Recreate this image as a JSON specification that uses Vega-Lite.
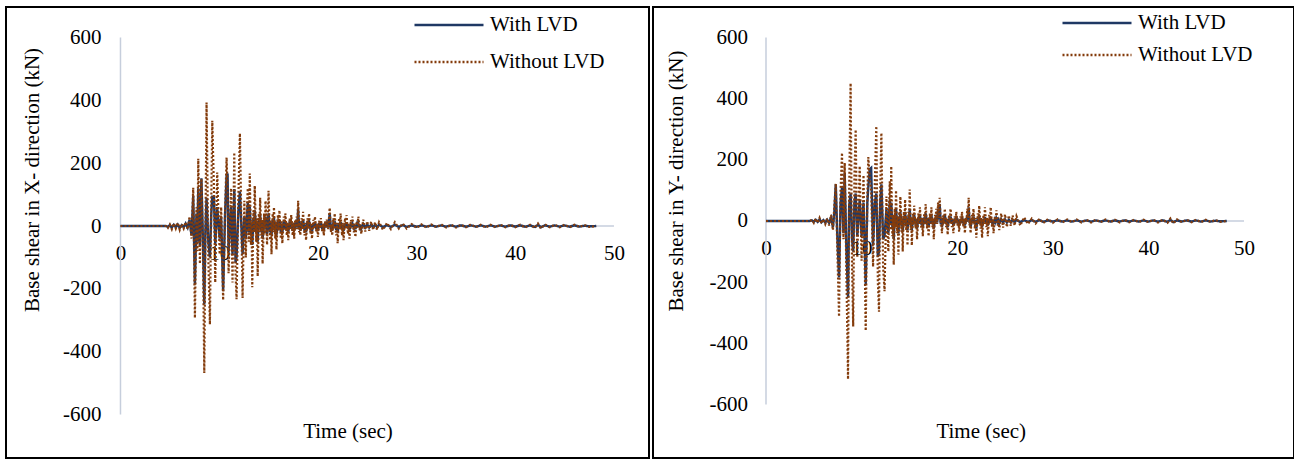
{
"$schema":"https://vega.github.io/schema/vega-lite/v6.json",
"padding":{"left":5,"top":6,"right":2,"bottom":2},
"autosize":{"type":"pad"},
"spacing":2,
"datasets":{
"dx":[
{"t":0,"a":0,"b":0},{"t":4.6,"a":0,"b":0},{"t":4.8,"a":-3,"b":-6},{"t":5.0,"a":3,"b":5},{"t":5.2,"a":-5,"b":-10},{"t":5.4,"a":4,"b":8},{"t":5.6,"a":-4,"b":-8},{"t":5.8,"a":5,"b":10},{"t":6.0,"a":-6,"b":-12},{"t":6.2,"a":3,"b":6},{"t":6.4,"a":-4,"b":-8},{"t":6.6,"a":8,"b":12},{"t":6.8,"a":-5,"b":-10},
{"t":7.0,"a":20,"b":30},{"t":7.2,"a":-30,"b":-40},{"t":7.37,"a":96,"b":122},{"t":7.54,"a":-186,"b":-293},{"t":7.7,"a":40,"b":60},{"t":7.79,"a":-50,"b":-80},{"t":7.88,"a":120,"b":214},{"t":8.05,"a":-60,"b":-120},{"t":8.2,"a":152,"b":150},{"t":8.35,"a":-40,"b":-60},{"t":8.49,"a":-250,"b":-468},{"t":8.6,"a":-20,"b":-50},{"t":8.72,"a":90,"b":393},{"t":8.9,"a":-50,"b":-100},{"t":9.06,"a":-100,"b":-313},{"t":9.2,"a":40,"b":80},{"t":9.3,"a":93,"b":335},{"t":9.47,"a":93,"b":120},{"t":9.6,"a":-60,"b":-180},{"t":9.8,"a":60,"b":170},{"t":10.05,"a":-40,"b":-90},{"t":10.2,"a":30,"b":60},{"t":10.4,"a":-207,"b":-236},{"t":10.6,"a":40,"b":50},{"t":10.75,"a":160,"b":218},{"t":10.85,"a":167,"b":120},{"t":10.95,"a":-80,"b":-150},{"t":11.2,"a":60,"b":120},{"t":11.35,"a":-90,"b":-180},{"t":11.53,"a":118,"b":234},{"t":11.66,"a":-117,"b":-150},{"t":11.76,"a":-100,"b":-233},{"t":11.95,"a":50,"b":100},{"t":12.1,"a":110,"b":295},{"t":12.37,"a":-90,"b":-229},
{"t":12.55,"a":30,"b":80},{"t":12.62,"a":-15,"b":-30},{"t":12.7,"a":-40,"b":-100},{"t":12.8,"a":20,"b":50},{"t":12.9,"a":75,"b":120},{"t":13.0,"a":-20,"b":-50},{"t":13.1,"a":60,"b":167},{"t":13.22,"a":-25,"b":-60},{"t":13.28,"a":10,"b":20},{"t":13.35,"a":-60,"b":-195},{"t":13.47,"a":25,"b":50},{"t":13.53,"a":-10,"b":-20},{"t":13.6,"a":50,"b":128},{"t":13.75,"a":-20,"b":-50},{"t":13.82,"a":10,"b":25},{"t":13.9,"a":-50,"b":-160},{"t":14.02,"a":20,"b":40},{"t":14.08,"a":-10,"b":-20},{"t":14.15,"a":35,"b":90},{"t":14.28,"a":-20,"b":-40},{"t":14.34,"a":10,"b":20},{"t":14.4,"a":-40,"b":-120},{"t":14.55,"a":20,"b":40},{"t":14.62,"a":-10,"b":-25},{"t":14.7,"a":30,"b":80},{"t":14.85,"a":-25,"b":-60},{"t":15.0,"a":40,"b":112},{"t":15.15,"a":-20,"b":-45},{"t":15.22,"a":10,"b":20},{"t":15.3,"a":-30,"b":-90},{"t":15.42,"a":20,"b":40},{"t":15.48,"a":-10,"b":-20},{"t":15.55,"a":25,"b":60},{"t":15.68,"a":-20,"b":-40},{"t":15.74,"a":8,"b":15},{"t":15.8,"a":-30,"b":-75},{"t":15.95,"a":20,"b":35},{"t":16.02,"a":-8,"b":-15},{"t":16.1,"a":20,"b":50},{"t":16.25,"a":-20,"b":-40},{"t":16.32,"a":8,"b":15},{"t":16.4,"a":-20,"b":-55},{"t":16.55,"a":15,"b":30},{"t":16.62,"a":-8,"b":-15},{"t":16.7,"a":15,"b":40},{"t":16.85,"a":-15,"b":-30},{"t":16.92,"a":6,"b":12},{"t":17.0,"a":-20,"b":-45},{"t":17.15,"a":15,"b":25},{"t":17.22,"a":-6,"b":-12},{"t":17.3,"a":15,"b":35},{"t":17.45,"a":-15,"b":-30},{"t":17.52,"a":6,"b":12},{"t":17.6,"a":-15,"b":-40},{"t":17.7,"a":10,"b":20},{"t":17.75,"a":-5,"b":-10},{"t":17.85,"a":20,"b":30},{"t":17.92,"a":-5,"b":-10},{"t":18.0,"a":55,"b":80},{"t":18.1,"a":-10,"b":-20},{"t":18.15,"a":5,"b":10},{"t":18.22,"a":-15,"b":-30},{"t":18.35,"a":15,"b":25},{"t":18.42,"a":-5,"b":-10},{"t":18.5,"a":20,"b":45},{"t":18.65,"a":-15,"b":-30},{"t":18.72,"a":5,"b":10},{"t":18.8,"a":-20,"b":-45},{"t":18.95,"a":15,"b":25},{"t":19.02,"a":-5,"b":-10},{"t":19.1,"a":18,"b":40},{"t":19.25,"a":-12,"b":-25},{"t":19.32,"a":5,"b":10},{"t":19.4,"a":-18,"b":-40},{"t":19.55,"a":10,"b":20},{"t":19.62,"a":-5,"b":-10},{"t":19.7,"a":12,"b":30},{"t":19.85,"a":-10,"b":-20},{"t":19.92,"a":5,"b":8},{"t":20.0,"a":-15,"b":-35},{"t":20.15,"a":10,"b":18},{"t":20.22,"a":-5,"b":-8},{"t":20.3,"a":10,"b":25},{"t":20.45,"a":-10,"b":-20},{"t":20.52,"a":5,"b":8},{"t":20.6,"a":-12,"b":-30},{"t":20.75,"a":10,"b":15},{"t":20.82,"a":-3,"b":-5},{"t":20.9,"a":15,"b":20},{"t":21.05,"a":-5,"b":-10},{"t":21.2,"a":40,"b":58},{"t":21.32,"a":-10,"b":-20},{"t":21.38,"a":5,"b":5},{"t":21.45,"a":-15,"b":-30},{"t":21.58,"a":12,"b":25},{"t":21.64,"a":-5,"b":-10},{"t":21.7,"a":15,"b":40},{"t":21.85,"a":-12,"b":-30},{"t":21.92,"a":5,"b":10},{"t":22.0,"a":-20,"b":-55},{"t":22.15,"a":10,"b":25},{"t":22.22,"a":-5,"b":-10},{"t":22.3,"a":12,"b":40},{"t":22.45,"a":-10,"b":-30},{"t":22.52,"a":4,"b":10},{"t":22.6,"a":-15,"b":-45},{"t":22.75,"a":8,"b":25},{"t":22.82,"a":-4,"b":-10},{"t":22.9,"a":10,"b":35},{"t":23.05,"a":-8,"b":-25},{"t":23.12,"a":4,"b":8},{"t":23.2,"a":-12,"b":-40},{"t":23.35,"a":6,"b":20},{"t":23.42,"a":-3,"b":-8},{"t":23.5,"a":8,"b":30},{"t":23.65,"a":-6,"b":-20},{"t":23.72,"a":3,"b":8},{"t":23.8,"a":-10,"b":-35},{"t":23.95,"a":6,"b":15},{"t":24.02,"a":-3,"b":-5},{"t":24.1,"a":8,"b":30},{"t":24.25,"a":-5,"b":-15},{"t":24.32,"a":3,"b":5},{"t":24.4,"a":-8,"b":-25},{"t":24.6,"a":6,"b":20},{"t":24.8,"a":-5,"b":-18},{"t":25.0,"a":5,"b":15},{"t":25.2,"a":-5,"b":-15},{"t":25.4,"a":4,"b":14},{"t":25.6,"a":-4,"b":-12},{"t":25.8,"a":4,"b":12},{"t":26.0,"a":-4,"b":-12},{"t":26.2,"a":4,"b":12},
{"t":26.6,"a":-4,"b":-12},{"t":27.0,"a":3,"b":10},{"t":27.4,"a":-3,"b":-10},{"t":27.8,"a":4,"b":12},{"t":28.2,"a":-3,"b":-8},{"t":28.6,"a":3,"b":8},{"t":29.0,"a":-3,"b":-8},{"t":29.5,"a":2,"b":6},{"t":30.0,"a":-2,"b":-6},{"t":30.5,"a":2,"b":5},{"t":31.0,"a":-2,"b":-5},{"t":31.5,"a":2,"b":5},{"t":32.0,"a":-2,"b":-4},{"t":32.5,"a":2,"b":5},{"t":33.0,"a":-2,"b":-5},{"t":33.5,"a":2,"b":4},{"t":34.0,"a":-2,"b":-5},{"t":34.5,"a":2,"b":4},{"t":35.0,"a":-2,"b":-4},{"t":35.5,"a":2,"b":5},{"t":36.0,"a":-2,"b":-4},{"t":36.5,"a":2,"b":4},{"t":37.0,"a":-2,"b":-5},{"t":37.5,"a":2,"b":4},{"t":38.0,"a":-2,"b":-4},{"t":38.5,"a":2,"b":4},{"t":39.0,"a":-2,"b":-4},{"t":39.5,"a":2,"b":4},{"t":40.0,"a":-2,"b":-4},{"t":40.5,"a":2,"b":4},{"t":41.0,"a":-2,"b":-5},{"t":41.5,"a":2,"b":4},{"t":42.0,"a":-3,"b":-6},{"t":42.3,"a":4,"b":8},{"t":42.6,"a":-4,"b":-8},{"t":43.0,"a":2,"b":5},{"t":43.5,"a":-2,"b":-4},{"t":44.0,"a":2,"b":4},{"t":44.5,"a":-2,"b":-4},{"t":45.0,"a":2,"b":4},{"t":45.5,"a":-2,"b":-4},{"t":46.0,"a":2,"b":4},{"t":46.5,"a":-2,"b":-3},{"t":47.0,"a":1,"b":3},{"t":47.5,"a":-1,"b":-3},{"t":48.2,"a":0,"b":0}
],
"dy":[
{"t":0,"a":0,"b":0},{"t":4.6,"a":0,"b":0},{"t":4.8,"a":2,"b":4},{"t":5.0,"a":-3,"b":-6},{"t":5.2,"a":4,"b":8},{"t":5.4,"a":-3,"b":-6},{"t":5.6,"a":5,"b":10},{"t":5.8,"a":-4,"b":-8},{"t":6.0,"a":3,"b":6},{"t":6.2,"a":-5,"b":-10},{"t":6.4,"a":4,"b":8},{"t":6.6,"a":-6,"b":-15},{"t":6.8,"a":10,"b":20},{"t":7.0,"a":-20,"b":-30},{"t":7.15,"a":30,"b":50},{"t":7.3,"a":120,"b":122},{"t":7.45,"a":-40,"b":-80},{"t":7.64,"a":-185,"b":-313},{"t":7.8,"a":60,"b":100},{"t":7.95,"a":110,"b":223},{"t":8.1,"a":-40,"b":-60},{"t":8.23,"a":157,"b":190},{"t":8.4,"a":-80,"b":-150},{"t":8.58,"a":-250,"b":-518},{"t":8.7,"a":50,"b":100},{"t":8.85,"a":90,"b":451},{"t":9.0,"a":-60,"b":-150},{"t":9.12,"a":-100,"b":-345},{"t":9.25,"a":60,"b":150},{"t":9.38,"a":90,"b":299},{"t":9.55,"a":-50,"b":-120},{"t":9.8,"a":70,"b":180},{"t":10.0,"a":-50,"b":-130},{"t":10.2,"a":60,"b":150},{"t":10.43,"a":-206,"b":-359},{"t":10.6,"a":60,"b":80},{"t":10.7,"a":110,"b":209},{"t":10.86,"a":170,"b":140},{"t":11.0,"a":174,"b":100},{"t":11.2,"a":-80,"b":-150},{"t":11.38,"a":60,"b":120},{"t":11.54,"a":90,"b":310},{"t":11.7,"a":-117,"b":-200},{"t":11.82,"a":-100,"b":-297},{"t":11.95,"a":60,"b":100},{"t":12.07,"a":120,"b":288},{"t":12.25,"a":-60,"b":-150},{"t":12.4,"a":-50,"b":-230},
{"t":12.6,"a":40,"b":80},{"t":12.7,"a":-15,"b":-30},{"t":12.8,"a":-40,"b":-100},{"t":12.88,"a":20,"b":40},{"t":12.95,"a":70,"b":130},{"t":13.02,"a":-10,"b":-30},{"t":13.1,"a":60,"b":179},{"t":13.22,"a":-20,"b":-50},{"t":13.28,"a":10,"b":20},{"t":13.36,"a":-60,"b":-143},{"t":13.47,"a":20,"b":40},{"t":13.53,"a":-10,"b":-20},{"t":13.6,"a":40,"b":100},{"t":13.72,"a":-15,"b":-40},{"t":13.78,"a":8,"b":15},{"t":13.85,"a":-40,"b":-110},{"t":13.95,"a":15,"b":30},{"t":14.0,"a":-8,"b":-15},{"t":14.05,"a":30,"b":80},{"t":14.17,"a":-15,"b":-35},{"t":14.23,"a":8,"b":15},{"t":14.3,"a":-35,"b":-100},{"t":14.42,"a":15,"b":30},{"t":14.48,"a":-8,"b":-15},{"t":14.55,"a":30,"b":70},{"t":14.67,"a":-12,"b":-30},{"t":14.73,"a":6,"b":12},{"t":14.8,"a":-30,"b":-80},{"t":14.9,"a":15,"b":30},{"t":14.96,"a":-6,"b":-12},{"t":15.03,"a":40,"b":103},{"t":15.14,"a":-12,"b":-30},{"t":15.2,"a":6,"b":12},{"t":15.25,"a":-30,"b":-80},{"t":15.38,"a":12,"b":25},{"t":15.44,"a":-6,"b":-12},{"t":15.5,"a":20,"b":50},{"t":15.65,"a":-12,"b":-25},{"t":15.72,"a":6,"b":10},{"t":15.8,"a":-25,"b":-60},{"t":15.95,"a":12,"b":25},{"t":16.02,"a":-6,"b":-10},{"t":16.1,"a":20,"b":45},{"t":16.25,"a":-12,"b":-25},{"t":16.32,"a":6,"b":10},{"t":16.4,"a":-20,"b":-50},{"t":16.55,"a":12,"b":25},{"t":16.62,"a":-6,"b":-10},{"t":16.7,"a":25,"b":55},{"t":16.85,"a":-12,"b":-25},{"t":16.92,"a":6,"b":10},{"t":17.0,"a":-20,"b":-50},{"t":17.15,"a":12,"b":25},{"t":17.22,"a":-6,"b":-10},{"t":17.3,"a":20,"b":45},{"t":17.42,"a":-10,"b":-20},{"t":17.48,"a":6,"b":10},{"t":17.55,"a":-25,"b":-60},{"t":17.68,"a":10,"b":20},{"t":17.74,"a":-5,"b":-10},{"t":17.8,"a":20,"b":40},{"t":17.9,"a":-5,"b":-10},{"t":18.0,"a":40,"b":60},{"t":18.08,"a":5,"b":10},{"t":18.17,"a":55,"b":76},{"t":18.28,"a":-10,"b":-15},{"t":18.34,"a":5,"b":10},{"t":18.4,"a":-20,"b":-40},{"t":18.55,"a":10,"b":20},{"t":18.62,"a":-5,"b":-10},{"t":18.7,"a":20,"b":40},{"t":18.85,"a":-10,"b":-20},{"t":18.92,"a":5,"b":10},{"t":19.0,"a":-20,"b":-45},{"t":19.15,"a":8,"b":20},{"t":19.22,"a":-4,"b":-8},{"t":19.3,"a":15,"b":40},{"t":19.45,"a":-8,"b":-20},{"t":19.52,"a":4,"b":8},{"t":19.6,"a":-15,"b":-40},{"t":19.75,"a":8,"b":15},{"t":19.82,"a":-4,"b":-8},{"t":19.9,"a":15,"b":30},{"t":20.05,"a":-8,"b":-15},{"t":20.12,"a":4,"b":8},{"t":20.2,"a":-15,"b":-35},{"t":20.35,"a":6,"b":15},{"t":20.42,"a":-3,"b":-8},{"t":20.5,"a":12,"b":30},{"t":20.65,"a":-8,"b":-20},{"t":20.72,"a":4,"b":8},{"t":20.8,"a":-15,"b":-40},{"t":20.92,"a":5,"b":10},{"t":20.98,"a":-3,"b":-5},{"t":21.05,"a":20,"b":40},{"t":21.12,"a":5,"b":10},{"t":21.2,"a":45,"b":76},{"t":21.3,"a":-8,"b":-15},{"t":21.35,"a":4,"b":8},{"t":21.4,"a":-20,"b":-40},{"t":21.55,"a":8,"b":20},{"t":21.62,"a":-4,"b":-10},{"t":21.7,"a":15,"b":40},{"t":21.85,"a":-10,"b":-25},{"t":21.92,"a":4,"b":10},{"t":22.0,"a":-25,"b":-55},{"t":22.15,"a":8,"b":25},{"t":22.22,"a":-4,"b":-10},{"t":22.3,"a":15,"b":50},{"t":22.45,"a":-10,"b":-25},{"t":22.52,"a":4,"b":10},{"t":22.6,"a":-20,"b":-55},{"t":22.75,"a":6,"b":20},{"t":22.82,"a":-3,"b":-10},{"t":22.9,"a":12,"b":45},{"t":23.05,"a":-8,"b":-20},{"t":23.12,"a":3,"b":10},{"t":23.2,"a":-15,"b":-50},{"t":23.35,"a":5,"b":20},{"t":23.42,"a":-3,"b":-8},{"t":23.5,"a":10,"b":45},{"t":23.65,"a":-5,"b":-20},{"t":23.72,"a":3,"b":8},{"t":23.8,"a":-10,"b":-40},{"t":23.95,"a":5,"b":15},{"t":24.02,"a":-2,"b":-5},{"t":24.1,"a":8,"b":35},{"t":24.25,"a":-4,"b":-15},{"t":24.32,"a":2,"b":5},{"t":24.4,"a":-8,"b":-30},{"t":24.6,"a":6,"b":25},{"t":24.8,"a":-5,"b":-22},{"t":25.0,"a":5,"b":22},{"t":25.2,"a":-5,"b":-20},{"t":25.4,"a":4,"b":18},{"t":25.6,"a":-4,"b":-16},{"t":25.8,"a":4,"b":18},{"t":26.0,"a":-4,"b":-15},{"t":26.2,"a":4,"b":16},
{"t":26.6,"a":-4,"b":-15},{"t":27.0,"a":3,"b":12},{"t":27.4,"a":-3,"b":-10},{"t":27.8,"a":3,"b":8},{"t":28.2,"a":-3,"b":-8},{"t":28.6,"a":3,"b":7},{"t":29.0,"a":-3,"b":-7},{"t":29.5,"a":2,"b":6},{"t":30.0,"a":-2,"b":-6},{"t":30.5,"a":2,"b":5},{"t":31.0,"a":-2,"b":-5},{"t":31.5,"a":2,"b":5},{"t":32.0,"a":-2,"b":-4},{"t":32.5,"a":2,"b":5},{"t":33.0,"a":-2,"b":-5},{"t":33.5,"a":2,"b":4},{"t":34.0,"a":-2,"b":-5},{"t":34.5,"a":2,"b":4},{"t":35.0,"a":-2,"b":-4},{"t":35.5,"a":2,"b":5},{"t":36.0,"a":-2,"b":-4},{"t":36.5,"a":2,"b":4},{"t":37.0,"a":-2,"b":-5},{"t":37.5,"a":2,"b":4},{"t":38.0,"a":-2,"b":-4},{"t":38.5,"a":2,"b":4},{"t":39.0,"a":-2,"b":-4},{"t":39.5,"a":2,"b":4},{"t":40.0,"a":-2,"b":-4},{"t":40.5,"a":2,"b":4},{"t":41.0,"a":-2,"b":-5},{"t":41.5,"a":2,"b":4},{"t":42.0,"a":-3,"b":-6},{"t":42.3,"a":4,"b":8},{"t":42.6,"a":-4,"b":-8},{"t":43.0,"a":2,"b":5},{"t":43.5,"a":-2,"b":-4},{"t":44.0,"a":2,"b":4},{"t":44.5,"a":-2,"b":-4},{"t":45.0,"a":2,"b":4},{"t":45.5,"a":-2,"b":-4},{"t":46.0,"a":2,"b":4},{"t":46.5,"a":-2,"b":-3},{"t":47.0,"a":1,"b":3},{"t":47.5,"a":-1,"b":-3},{"t":48.2,"a":0,"b":0}
]
},
"hconcat":[
{
"width":643,"height":451,
"layer":[
{"data":{"values":[{"x":0,"x2":50,"y":0}]},"mark":{"type":"rule","color":"#C6CEDC","strokeWidth":1.5},
 "encoding":{"x":{"field":"x","type":"quantitative","title":"Time (sec)","scale":{"domain":[-11.6,53.55],"nice":false,"zero":false}},"x2":{"field":"x2"},"y":{"field":"y","type":"quantitative","title":"Base shear in X- direction (kN)","scale":{"domain":[-738.4,697.1],"nice":false,"zero":false}}}},
{"data":{"values":[{"x":0,"y":-600,"y2":600}]},"mark":{"type":"rule","color":"#C6CEDC","strokeWidth":1.5},
 "encoding":{"x":{"field":"x","type":"quantitative","title":"Time (sec)"},"y":{"field":"y","type":"quantitative","title":"Base shear in X- direction (kN)"},"y2":{"field":"y2"}}},
{"data":{"name":"dx"},"mark":{"type":"line","strokeWidth":2.4},
 "encoding":{
  "x":{"field":"t","type":"quantitative","title":"Time (sec)","axis":{"values":[0,10,20,30,40,50],"offset":-232,"labelPadding":16,"labelFlush":false,"labelOverlap":false,"titleX":341.5,"titleY":205,"titleBaseline":"middle","titleAlign":"center","labelExpr":"'' + datum.value"}},
  "y":{"field":"a","type":"quantitative","title":"Base shear in X- direction (kN)","axis":{"values":[-600,-400,-200,0,200,400,600],"offset":-114.5,"labelPadding":19.5,"labelFlush":false,"labelOverlap":false,"titleX":-88.5,"titleY":172.5,"titleAngle":-90,"titleBaseline":"middle","titleAlign":"center","labelExpr":"'' + datum.value"}},
  "color":{"datum":"With LVD","scale":{"domain":["With LVD","Without LVD"],"range":["#1F3864","#843C0C"]},"legend":{"title":null,"orient":"none","legendX":432.5,"legendY":7.5,"direction":"vertical","padding":0,"symbolType":"M-4,0H4","symbolSize":297.6,"symbolStrokeWidth":2.5,"labelOffset":30.5,"rowPadding":15,"labelLimit":300}},
  "strokeDash":{"datum":"With LVD","scale":{"domain":["With LVD","Without LVD"],"range":[[1,0],[2,2]]},"legend":{"title":null,"orient":"none","legendX":432.5,"legendY":7.5,"direction":"vertical","padding":0,"symbolType":"M-4,0H4","symbolSize":297.6,"symbolStrokeWidth":2.5,"labelOffset":30.5,"rowPadding":15,"labelLimit":300}}
 }},
{"data":{"name":"dx"},"mark":{"type":"line","strokeWidth":2.2},
 "encoding":{
  "x":{"field":"t","type":"quantitative","title":"Time (sec)"},
  "y":{"field":"b","type":"quantitative","title":"Base shear in X- direction (kN)"},
  "color":{"datum":"Without LVD"},
  "strokeDash":{"datum":"Without LVD"}
 }}
]
},
{
"width":641,"height":451,
"layer":[
{"data":{"values":[{"x":0,"x2":50,"y":0}]},"mark":{"type":"rule","color":"#C6CEDC","strokeWidth":1.5},
 "encoding":{"x":{"field":"x","type":"quantitative","title":"Time (sec)","scale":{"domain":[-11.82,55.23],"nice":false,"zero":false}},"x2":{"field":"x2"},"y":{"field":"y","type":"quantitative","title":"Base shear in Y- direction (kN)","scale":{"domain":[-775.4,700],"nice":false,"zero":false}}}},
{"data":{"values":[{"x":0,"y":-600,"y2":600}]},"mark":{"type":"rule","color":"#C6CEDC","strokeWidth":1.5},
 "encoding":{"x":{"field":"x","type":"quantitative","title":"Time (sec)"},"y":{"field":"y","type":"quantitative","title":"Base shear in Y- direction (kN)"},"y2":{"field":"y2"}}},
{"data":{"name":"dy"},"mark":{"type":"line","strokeWidth":2.4},
 "encoding":{
  "x":{"field":"t","type":"quantitative","title":"Time (sec)","axis":{"values":[0,10,20,30,40,50],"offset":-237.5,"labelPadding":17,"labelFlush":false,"labelOverlap":false,"titleX":327.7,"titleY":210.5,"titleBaseline":"middle","titleAlign":"center","labelExpr":"'' + datum.value"}},
  "y":{"field":"a","type":"quantitative","title":"Base shear in Y- direction (kN)","axis":{"values":[-600,-400,-200,0,200,400,600],"offset":-113,"labelPadding":18.5,"labelFlush":false,"labelOverlap":false,"titleX":-89.6,"titleY":173.5,"titleAngle":-90,"titleBaseline":"middle","titleAlign":"center","labelExpr":"'' + datum.value"}},
  "color":{"datum":"With LVD","scale":{"domain":["With LVD","Without LVD"],"range":["#1F3864","#843C0C"]},"legend":{"title":null,"orient":"none","legendX":433.5,"legendY":5.5,"direction":"vertical","padding":0,"symbolType":"M-4,0H4","symbolSize":297.6,"symbolStrokeWidth":2.5,"labelOffset":30.5,"rowPadding":10,"labelLimit":300}},
  "strokeDash":{"datum":"With LVD","scale":{"domain":["With LVD","Without LVD"],"range":[[1,0],[2,2]]},"legend":{"title":null,"orient":"none","legendX":433.5,"legendY":5.5,"direction":"vertical","padding":0,"symbolType":"M-4,0H4","symbolSize":297.6,"symbolStrokeWidth":2.5,"labelOffset":30.5,"rowPadding":10,"labelLimit":300}}
 }},
{"data":{"name":"dy"},"mark":{"type":"line","strokeWidth":2.2},
 "encoding":{
  "x":{"field":"t","type":"quantitative","title":"Time (sec)"},
  "y":{"field":"b","type":"quantitative","title":"Base shear in Y- direction (kN)"},
  "color":{"datum":"Without LVD"},
  "strokeDash":{"datum":"Without LVD"}
 }}
]
}
],
"resolve":{"scale":{"x":"independent","y":"independent","color":"independent","strokeDash":"independent"},"legend":{"color":"independent","strokeDash":"independent"}},
"config":{
 "background":"#ffffff",
 "font":"Liberation Serif",
 "view":{"stroke":"#000000","strokeWidth":2},
 "axis":{"grid":false,"domain":false,"ticks":false,"labelFont":"Liberation Serif","labelFontSize":21,"labelColor":"#000000","titleFont":"Liberation Serif","titleFontSize":21,"titleFontWeight":"normal","titleColor":"#000000"},
 "legend":{"labelFont":"Liberation Serif","labelFontSize":21,"labelColor":"#000000"}
}
}
